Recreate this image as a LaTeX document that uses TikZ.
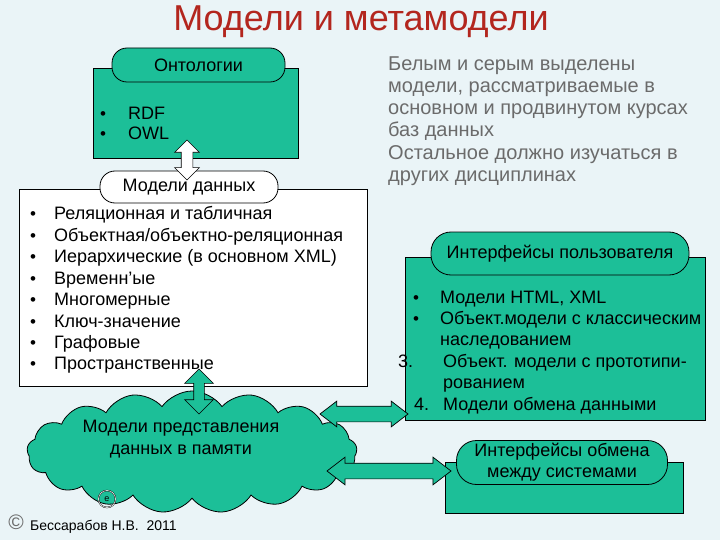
\documentclass[tikz,border=0pt]{standalone}
\usepackage{fontspec}
\setmainfont{Liberation Sans}
\usetikzlibrary{positioning,calc,shapes.arrows,shapes.symbols}
\definecolor{bgblue}{HTML}{EAF4F7}
\definecolor{boxgreen}{HTML}{1CBF98}
\definecolor{titlered}{HTML}{B3261E}
\definecolor{notegrey}{HTML}{6B6B6B}
\tikzset{
  panel/.style={draw=black, line width=0.8pt, fill=boxgreen, inner sep=0pt},
  tab/.style={draw=black, line width=0.8pt, fill=boxgreen, rounded corners=15pt,
     inner sep=0pt, align=center, font=\fontsize{18}{21}\selectfont},
  bul/.style={anchor=base, inner sep=0pt, font=\fontsize{17}{18}\selectfont},
  item/.style={anchor=base west, inner sep=0pt, font=\fontsize{18}{21}\selectfont},
  note/.style={anchor=base west, inner sep=0pt, text=notegrey, font=\fontsize{20}{22}\selectfont},
  fatarrow/.style={double arrow, draw=black, line width=0.7pt, inner xsep=0pt,
     sloped, midway, anchor=center}
}
\begin{document}
\begin{tikzpicture}[x=1pt, y=-1pt]
  \fill[bgblue] (0,0) rectangle (720,540);
  \useasboundingbox (0,0) rectangle (720,540);

  % Title
  \node[text=titlered, font=\fontsize{36}{40}\selectfont] (title) at (361,22) {Модели и метамодели};

  % Ontologies
  \node[panel, minimum width=205, minimum height=90] (onto) at (195.5,113) {};
  \node[tab, minimum width=173, minimum height=34] (ontotab) at (198.5,65) {Онтологии};
  \node[bul] (ob1) at (103,120) {•};
  \node[item] (ot1) at (128,120) {RDF};
  \node[bul] (ob2) at (103,140) {•};
  \node[item] (ot2) at (128,140) {OWL};

  % Data models
  \node[panel, fill=white, minimum width=348, minimum height=197] (data) at (193,287.5) {};
  \node[tab, fill=white, minimum width=178, minimum height=32] (datatab) at (189,187) {Модели данных};
  \foreach \t [count=\i from 0] in {Реляционная и табличная,
      Объектная/объектно-реляционная, Иерархические (в основном XML),
      Временн'ые, Многомерные, Ключ-значение, Графовые, Пространственные} {
    \node[bul] (db\i) at (33,220+21.4*\i) {•};
    \node[item] (dt\i) at (54,220+21.4*\i) {\t};
  }

  % Note
  \node[note] (n1) at (388,71) {Белым и серым выделены};
  \node[note] (n2) at (388,93) {модели, рассматриваемые в};
  \node[note] (n3) at (388,115) {основном и продвинутом курсах};
  \node[note] (n4) at (388,137) {баз данных};
  \node[note] (n5) at (388,160) {Остальное должно изучаться в};
  \node[note] (n6) at (388,182) {других дисциплинах};

  % User interfaces
  \node[panel, minimum width=300, minimum height=163] (ui) at (555,338.5) {};
  \node[tab, rounded corners=20pt, minimum width=258, minimum height=43] (uitab) at (560,253.5) {Интерфейсы пользователя};
  \node[bul] (ub1) at (416,303) {•};
  \node[item] (ut1) at (440,303) {Модели HTML, XML};
  \node[bul] (ub2) at (416,324) {•};
  \node[item] (ut2) at (440,324) {Объект.модели с классическим};
  \node[item] (ut3) at (440,345) {наследованием};
  \node[item] (un4) at (398,367) {3.};
  \node[item] (ut4) at (443,367) {Объект. модели с прототипи-};
  \node[item] (ut5) at (443,388) {рованием};
  \node[item] (un6) at (414,410) {4.};
  \node[item] (ut6) at (443,410) {Модели обмена данными};

  % Exchange interfaces
  \node[panel, minimum width=238, minimum height=51] (xch) at (564,487.5) {};
  \node[tab, rounded corners=20pt, minimum width=211, minimum height=44] (xchtab) at (562,462.5) {Интерфейсы обмена\\между системами};

  % Memory models
  \node[cloud, cloud puffs=17, cloud puff arc=110, cloud ignores aspect, draw=black, line width=0.8pt,
        fill=boxgreen, minimum width=330, minimum height=122] (mem) at (192,452) {};
  \node[align=center, inner sep=0pt, font=\fontsize{18}{22}\selectfont] (memlbl) at (181,439)
       {Модели представления\\данных в памяти};
  \node[circle, draw=black, double, inner sep=0pt, minimum size=17,
        font=\fontsize{9}{9}\selectfont] (ecirc) at (107,499) {e};

  % Arrows
  \coordinate (a1s) at (187,140);
  \coordinate (a1e) at (187,180);
  \path (a1s) -- (a1e) node[fatarrow, fill=white, minimum height=40, inner ysep=5.5,
        double arrow head extend=6.5] (arr1) {};
  \coordinate (a2s) at (199,369);
  \coordinate (a2e) at (199,414);
  \path (a2s) -- (a2e) node[fatarrow, fill=boxgreen, minimum height=45, inner ysep=5,
        double arrow head extend=9] (arr2) {};
  \coordinate (a3s) at (320,414);
  \coordinate (a3e) at (408,414);
  \path (a3s) -- (a3e) node[fatarrow, fill=boxgreen, minimum height=88, inner ysep=7.5,
        double arrow head extend=5, double arrow tip angle=75] (arr3) {};
  \coordinate (a4s) at (327,471);
  \coordinate (a4e) at (451,471);
  \path (a4s) -- (a4e) node[fatarrow, fill=boxgreen, minimum height=124, inner ysep=7.5,
        double arrow head extend=6, double arrow tip angle=75] (arr4) {};

  % Footer
  \node[text=notegrey, inner sep=0pt, font=\fontsize{21}{21}\selectfont] (copy) at (16,522) {©};
  \node[anchor=base west, inner sep=0pt, font=\fontsize{14}{15}\selectfont] (author) at (30,530) {Бессарабов Н.В.\ \ 2011};
\end{tikzpicture}
\end{document}
